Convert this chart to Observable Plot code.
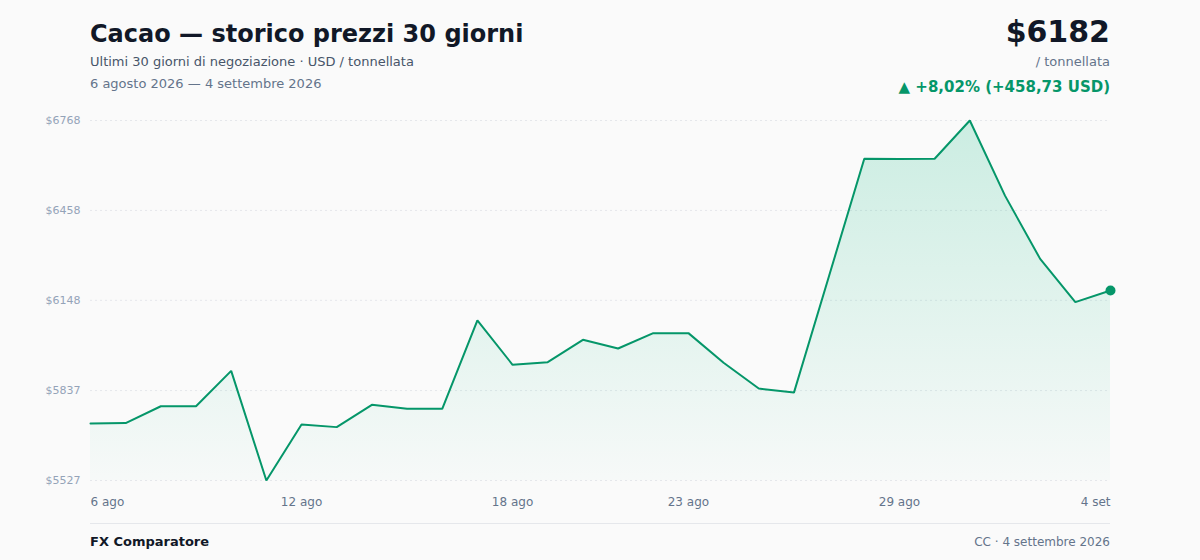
<!DOCTYPE html>
<html>
<head>
<meta charset="utf-8">
<script src="https://cdn.jsdelivr.net/npm/d3@7"></script>
<script src="https://cdn.jsdelivr.net/npm/@observablehq/plot@0.6"></script>
<style>
  html, body { margin: 0; padding: 0; background: #fafafa; }
  body { width: 1200px; height: 560px; position: relative; overflow: hidden; font-family: "DejaVu Sans", sans-serif; }
  .abs { position: absolute; white-space: nowrap; }
  #title { left: 90px; top: 20px; font-size: 24px; font-weight: bold; color: #111827; }
  #sub { left: 90px; top: 54px; font-size: 13px; color: #475569; }
  #range { left: 90px; top: 76px; font-size: 13px; color: #64748b; }
  #price { right: 90px; top: 14px; font-size: 30px; font-weight: bold; color: #111827; }
  #unit { right: 90px; top: 54px; font-size: 13px; color: #64748b; }
  #change { right: 90px; top: 78px; font-size: 15px; font-weight: bold; color: #059669; }
  #chart { position: absolute; left: 0; top: 100px; }
  #rule { position: absolute; left: 90px; width: 1020px; top: 523px; height: 1px; background: #e5e7eb; }
  #brand { left: 90px; top: 534px; font-size: 13px; font-weight: bold; color: #111827; }
  #credit { right: 90px; top: 535px; font-size: 12px; color: #64748b; }
</style>
</head>
<body>
<div class="abs" id="title">Cacao — storico prezzi 30 giorni</div>
<div class="abs" id="sub">Ultimi 30 giorni di negoziazione · USD / tonnellata</div>
<div class="abs" id="range">6 agosto 2026 — 4 settembre 2026</div>
<div class="abs" id="price">$6182</div>
<div class="abs" id="unit">/ tonnellata</div>
<div class="abs" id="change">▲ +8,02% (+458,73 USD)</div>
<div id="chart"></div>
<div id="rule"></div>
<div class="abs" id="brand">FX Comparatore</div>
<div class="abs" id="credit">CC · 4 settembre 2026</div>
<script>
const dates = [
  "2026-08-06","2026-08-07","2026-08-08","2026-08-09","2026-08-10",
  "2026-08-11","2026-08-12","2026-08-13","2026-08-14","2026-08-15",
  "2026-08-16","2026-08-17","2026-08-18","2026-08-19","2026-08-20",
  "2026-08-21","2026-08-22","2026-08-23","2026-08-24","2026-08-25",
  "2026-08-26","2026-08-27","2026-08-28","2026-08-29","2026-08-30",
  "2026-08-31","2026-09-01","2026-09-02","2026-09-03","2026-09-04"
];
const prices = [
  5723.27, 5725, 5783, 5783, 5905,
  5527, 5720, 5711, 5788, 5774,
  5774, 6079, 5926, 5935, 6012,
  5982, 6035, 6035, 5933, 5844,
  5830, 6233, 6636, 6635, 6636,
  6768, 6509, 6291, 6142, 6182
];
const xTickDates = ["2026-08-06","2026-08-12","2026-08-18","2026-08-23","2026-08-29","2026-09-04"];
const xTickLabels = ["6 ago","12 ago","18 ago","23 ago","29 ago","4 set"];
const yTicks = [5527, 5837, 6148, 6458, 6768];

const green = "#059669";
const data = dates.map((d, i) => ({date: new Date(d + "T00:00:00Z"), price: prices[i]}));
const yMin = d3.min(prices), yMax = d3.max(prices);
const xTicks = xTickDates.map((d, i) => ({date: new Date(d + "T00:00:00Z"), label: xTickLabels[i]}));
const lastTick = xTicks.length - 1;

const gradientDefs = () => {
  const ns = "http://www.w3.org/2000/svg";
  const defs = document.createElementNS(ns, "defs");
  const lg = document.createElementNS(ns, "linearGradient");
  lg.setAttribute("id", "areaGrad");
  lg.setAttribute("x1", "0"); lg.setAttribute("y1", "0");
  lg.setAttribute("x2", "0"); lg.setAttribute("y2", "1");
  [["0%", 0.2], ["100%", 0.015]].forEach(([o, a]) => {
    const s = document.createElementNS(ns, "stop");
    s.setAttribute("offset", o);
    s.setAttribute("stop-color", "#10b981");
    s.setAttribute("stop-opacity", a);
    lg.appendChild(s);
  });
  defs.appendChild(lg);
  return defs;
};

const chart = Plot.plot({
  width: 1200,
  height: 420,
  marginTop: 20,
  marginBottom: 40,
  marginLeft: 90,
  marginRight: 90,
  style: {background: "transparent", fontFamily: "DejaVu Sans, sans-serif"},
  x: {type: "utc", domain: [data[0].date, data[data.length - 1].date], axis: null},
  y: {domain: [yMin, yMax], axis: null},
  marks: [
    gradientDefs,
    Plot.ruleY(yTicks, {x1: data[0].date, x2: data[data.length - 1].date, y: d => d, stroke: "#e5e7eb", strokeDasharray: "2,3", strokeWidth: 1}),
    Plot.text(yTicks, {x: data[0].date, y: d => d, text: d => "$" + Math.round(d), textAnchor: "end", dx: -10, fontSize: 11, fill: "#94a3b8"}),
    Plot.areaY(data, {x: "date", y1: yMin, y2: "price", fill: "url(#areaGrad)"}),
    Plot.line(data, {x: "date", y: "price", stroke: green, strokeWidth: 2, strokeLinejoin: "miter"}),
    Plot.dot([data[data.length - 1]], {x: "date", y: "price", r: 5, fill: green}),
    Plot.text(xTicks.slice(0, 1), {x: "date", y: yMin, text: "label", textAnchor: "start", dy: 22, fontSize: 12, fill: "#64748b"}),
    Plot.text(xTicks.slice(1, lastTick), {x: "date", y: yMin, text: "label", textAnchor: "middle", dy: 22, fontSize: 12, fill: "#64748b"}),
    Plot.text(xTicks.slice(lastTick), {x: "date", y: yMin, text: "label", textAnchor: "end", dy: 22, fontSize: 12, fill: "#64748b"})
  ]
});
document.getElementById("chart").appendChild(chart);
</script>
</body>
</html>
